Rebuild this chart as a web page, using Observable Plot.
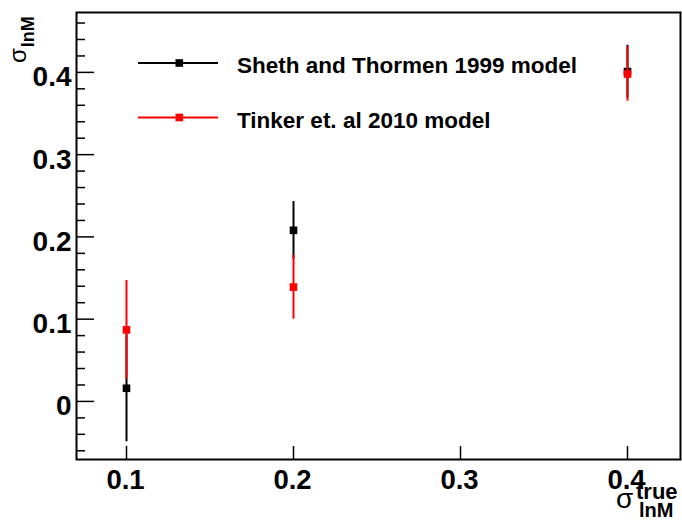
<!DOCTYPE html>
<html>
<head>
<meta charset="utf-8">
<script src="https://cdn.jsdelivr.net/npm/d3@7"></script>
<script src="https://cdn.jsdelivr.net/npm/@observablehq/plot@0.6"></script>
<style>
  html, body { margin: 0; padding: 0; background: #fff; }
  #wrap { position: relative; width: 682px; height: 522px; overflow: hidden; font-family: "Liberation Sans", Arial, Helvetica, sans-serif; }
  #overlay { position: absolute; left: 0; top: 0; pointer-events: none; }
</style>
</head>
<body>
<div id="wrap"></div>
<script>
// ---- data ----
const xValues = [0.1, 0.2, 0.4];
const shethY = [0.016, 0.208, 0.401];
const shethErr = [0.065, 0.035, 0.032];
const tinkerY = [0.087, 0.139, 0.398];
const tinkerErr = [0.060, 0.039, 0.033];

const seriesNames = ["Sheth and Thormen 1999 model", "Tinker et. al 2010 model"];
const seriesColors = ["#000000", "#ff0000"];

const xTicks = [0.1, 0.2, 0.3, 0.4];
const xTickLabels = ["0.1", "0.2", "0.3", "0.4"];
const yTicks = [0, 0.1, 0.2, 0.3, 0.4];
const yTickLabels = ["0", "0.1", "0.2", "0.3", "0.4"];
const yMinorTicks = [-0.06, -0.04, -0.02, 0.02, 0.04, 0.06, 0.08, 0.12, 0.14, 0.16, 0.18,
  0.22, 0.24, 0.26, 0.28, 0.32, 0.34, 0.36, 0.38, 0.42, 0.44, 0.46];

const xDomain = [0.07006, 0.43174];
const yDomain = [-0.0706, 0.4728];

// ---- tables ----
function table(ys, errs) {
  return xValues.map((x, i) => ({x, y: ys[i], lo: ys[i] - errs[i], hi: ys[i] + errs[i]}));
}
const sheth = table(shethY, shethErr);
const tinker = table(tinkerY, tinkerErr);

const font = "'Liberation Sans', Arial, Helvetica, sans-serif";

const chart = Plot.plot({
  width: 682,
  height: 522,
  marginLeft: 76,
  marginRight: 2,
  marginTop: 12,
  marginBottom: 63,
  style: {fontFamily: font, fontWeight: "bold", background: "#fff", color: "#000"},
  x: {domain: xDomain, label: null},
  y: {domain: yDomain, label: null},
  marks: [
    Plot.axisY(yMinorTicks, {tickSize: -9, text: null, strokeWidth: 1.5, label: null}),
    Plot.axisY(yTicks, {tickSize: -18, text: null, strokeWidth: 1.5, label: null}),
    Plot.axisY(yTicks, {tickSize: 0, tickPadding: 5, fontSize: 28, dy: 5,
      tickFormat: (d, i) => yTickLabels[i], label: null}),
    Plot.axisX(xTicks, {tickSize: -13, text: null, strokeWidth: 1.5, label: null}),
    Plot.axisX(xTicks, {tickSize: 0, tickPadding: 10, fontSize: 27.5, dx: -1,
      tickFormat: (d, i) => xTickLabels[i], label: null}),
    Plot.ruleX(sheth, {x: "x", y1: "lo", y2: "hi", stroke: seriesColors[0], strokeWidth: 2}),
    Plot.dot(sheth, {x: "x", y: "y", symbol: "square", r: 4.3, fill: seriesColors[0], stroke: null}),
    Plot.ruleX(tinker, {x: "x", y1: "lo", y2: "hi", stroke: seriesColors[1], strokeWidth: 2}),
    Plot.dot(tinker, {x: "x", y: "y", symbol: "square", r: 4.3, fill: seriesColors[1], stroke: null}),
    Plot.frame({stroke: "#000", strokeWidth: 2})
  ]
});

const wrap = document.getElementById("wrap");
wrap.appendChild(chart);

// ---- legend and axis titles (overlay) ----
const ns = "http://www.w3.org/2000/svg";
const ov = document.createElementNS(ns, "svg");
ov.setAttribute("id", "overlay");
ov.setAttribute("width", 682);
ov.setAttribute("height", 522);
ov.setAttribute("font-family", font);
ov.setAttribute("font-weight", "bold");
wrap.appendChild(ov);

function el(tag, attrs, parent, text) {
  const e = document.createElementNS(ns, tag);
  for (const k in attrs) e.setAttribute(k, attrs[k]);
  if (text != null) e.textContent = text;
  (parent || ov).appendChild(e);
  return e;
}

const legendRows = [63, 117.5];
seriesNames.forEach((name, i) => {
  const cy = legendRows[i];
  el("line", {x1: 138, x2: 218, y1: cy, y2: cy, stroke: seriesColors[i], "stroke-width": 2});
  el("rect", {x: 175.5, y: cy - 3.8, width: 7.6, height: 7.6, fill: seriesColors[i]});
  el("text", {x: 237, y: cy + 10, "font-size": 22.5, fill: "#000"}, null, name);
});

// y-axis title: sigma_lnM rotated
const gy = el("g", {transform: "translate(26,63) rotate(-90)"});
const ty = el("text", {x: 0, y: 0, fill: "#000"}, gy);
el("tspan", {"font-size": 24, "font-weight": "normal"}, ty, "σ");
el("tspan", {"font-size": 18, dy: 8, dx: 1}, ty, "lnM");

// x-axis title: sigma^true_lnM (one text element with positioned parts)
const tx = el("text", {fill: "#000"});
el("tspan", {x: 616, y: 508, "font-size": 28, "font-weight": "normal"}, tx, "σ");
el("tspan", {x: 636, y: 499, "font-size": 22}, tx, "true");
el("tspan", {x: 639, y: 517, "font-size": 20}, tx, "lnM");
</script>
</body>
</html>
